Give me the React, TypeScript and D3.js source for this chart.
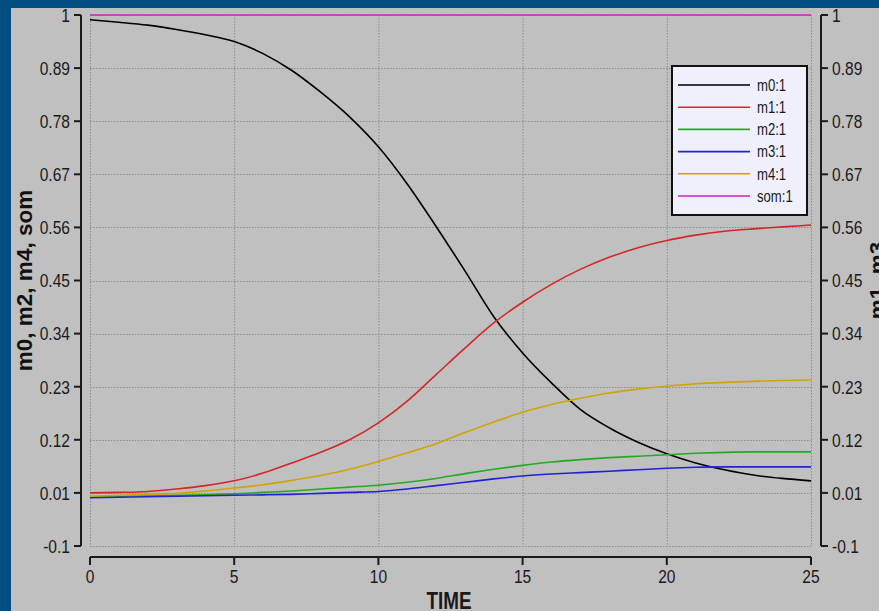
import React from "react";
import * as d3 from "d3";

// Simulation output: time in steps of 1, moment fractions per species
const time = d3.range(0, 26);
const m0 = [0.99, 0.985, 0.979, 0.970, 0.959, 0.945, 0.920, 0.885, 0.840, 0.789, 0.727, 0.650, 0.562, 0.470, 0.375, 0.300, 0.238, 0.183, 0.145, 0.115, 0.091, 0.072, 0.058, 0.047, 0.040, 0.035];
const m1 = [0.010, 0.011, 0.013, 0.018, 0.025, 0.035, 0.051, 0.072, 0.094, 0.120, 0.155, 0.200, 0.255, 0.310, 0.362, 0.405, 0.442, 0.473, 0.498, 0.518, 0.533, 0.544, 0.552, 0.557, 0.561, 0.565];
const m2 = [0.002, 0.003, 0.004, 0.005, 0.006, 0.008, 0.011, 0.014, 0.018, 0.022, 0.026, 0.032, 0.040, 0.050, 0.059, 0.067, 0.074, 0.079, 0.083, 0.086, 0.089, 0.092, 0.094, 0.095, 0.095, 0.095];
const m3 = [0.000, 0.001, 0.002, 0.003, 0.004, 0.005, 0.006, 0.007, 0.009, 0.011, 0.013, 0.018, 0.025, 0.032, 0.039, 0.045, 0.049, 0.052, 0.055, 0.058, 0.061, 0.063, 0.064, 0.064, 0.064, 0.064];
const m4 = [0.003, 0.005, 0.007, 0.009, 0.014, 0.020, 0.027, 0.036, 0.046, 0.059, 0.075, 0.093, 0.112, 0.135, 0.157, 0.177, 0.193, 0.206, 0.217, 0.225, 0.231, 0.236, 0.239, 0.241, 0.243, 0.244];
const som = time.map(() => 1);

const seriesNames = ["m0:1", "m1:1", "m2:1", "m3:1", "m4:1", "som:1"];
const seriesColors = ["#000000", "#d42626", "#22aa22", "#2222d8", "#d0a400", "#d020c8"];
const seriesValues = [m0, m1, m2, m3, m4, som];

const xTicks = [0, 5, 10, 15, 20, 25];
const yTicks = [1, 0.89, 0.78, 0.67, 0.56, 0.45, 0.34, 0.23, 0.12, 0.01, -0.1];

const W = 879;
const H = 611;
const BG = "#c0c0c0";
const FRAME = "#004f80";
const FONT = "'Liberation Sans', Arial, sans-serif";

// Condensed text: regular sans squeezed horizontally
function Narrow({
  x,
  y,
  anchor = "start",
  size = 19,
  weight = "normal",
  dy,
  children,
}: {
  x: number;
  y: number;
  anchor?: "start" | "middle" | "end";
  size?: number;
  weight?: string;
  dy?: string;
  children: React.ReactNode;
}) {
  return (
    <text
      transform={`translate(${x},${y}) scale(0.82,1)`}
      textAnchor={anchor}
      fontFamily={FONT}
      fontSize={size}
      fontWeight={weight}
      fill="#1a1a1a"
      dy={dy}
    >
      {children}
    </text>
  );
}

export default function App() {
  const x = d3.scaleLinear().domain([0, 25]).range([90, 811]);
  const y = d3.scaleLinear().domain([-0.1, 1]).range([546, 15]);
  const line = d3
    .line<number>()
    .x((_, i) => x(time[i]))
    .y((d) => y(d))
    .curve(d3.curveMonotoneX);

  const leftAxisX = 81;
  const rightAxisX = 821;
  const bottomAxisY = 557;

  const legendX = 672;
  const legendY = 66;

  return (
    <svg
      width={W}
      height={H}
      style={{ position: "absolute", left: 0, top: 0, display: "block" }}
    >
      <rect x={0} y={0} width={W} height={H} fill={FRAME} />
      <rect x={11} y={8} width={W - 11} height={H - 8} fill={BG} />

      {/* grid */}
      <g stroke="#8a8a8a" strokeWidth={1} strokeDasharray="1.5,1.5">
        {xTicks.map((t) => (
          <line key={"gx" + t} x1={x(t) + 0.5} x2={x(t) + 0.5} y1={y(1)} y2={y(-0.1)} />
        ))}
        {yTicks.map((v) => (
          <line key={"gy" + v} x1={x(0)} x2={x(25)} y1={Math.round(y(v)) + 0.5} y2={Math.round(y(v)) + 0.5} />
        ))}
      </g>

      {/* left axis */}
      <g stroke="#1a1a1a" strokeWidth={2} fill="none">
        <line x1={leftAxisX} x2={leftAxisX} y1={y(1)} y2={y(-0.1)} />
        {yTicks.map((v) => (
          <line key={"lt" + v} x1={leftAxisX - 7} x2={leftAxisX} y1={y(v)} y2={y(v)} />
        ))}
      </g>
      {yTicks.map((v) => (
        <Narrow key={"ll" + v} x={70} y={y(v)} dy="0.36em" anchor="end">
          {String(v)}
        </Narrow>
      ))}

      {/* right axis */}
      <g stroke="#1a1a1a" strokeWidth={2} fill="none">
        <line x1={rightAxisX} x2={rightAxisX} y1={y(1)} y2={y(-0.1)} />
        {yTicks.map((v) => (
          <line key={"rt" + v} x1={rightAxisX} x2={rightAxisX + 7} y1={y(v)} y2={y(v)} />
        ))}
      </g>
      {yTicks.map((v) => (
        <Narrow key={"rl" + v} x={832} y={y(v)} dy="0.36em">
          {String(v)}
        </Narrow>
      ))}

      {/* bottom axis */}
      <g stroke="#1a1a1a" strokeWidth={2} fill="none">
        <line x1={x(0)} x2={x(25)} y1={bottomAxisY} y2={bottomAxisY} />
        {xTicks.map((t) => (
          <line key={"bt" + t} x1={x(t)} x2={x(t)} y1={bottomAxisY} y2={bottomAxisY + 8} />
        ))}
      </g>
      {xTicks.map((t) => (
        <Narrow key={"bl" + t} x={x(t)} y={583} anchor="middle">
          {t}
        </Narrow>
      ))}

      {/* axis titles */}
      <Narrow x={449} y={609} anchor="middle" size={23} weight="bold">
        TIME
      </Narrow>
      <text
        transform={`translate(32, ${y(0.45)}) rotate(-90)`}
        textAnchor="middle"
        fontFamily={FONT}
        fontWeight="bold"
        fontSize={22.5}
        fill="#111"
      >
        m0, m2, m4, som
      </text>
      <text
        transform={`translate(885, ${y(0.45)}) rotate(-90)`}
        textAnchor="middle"
        fontFamily={FONT}
        fontWeight="bold"
        fontSize={22.5}
        fill="#111"
      >
        m1, m3
      </text>

      {/* series */}
      <g fill="none" strokeWidth={1.6}>
        {seriesValues.map((vals, i) => (
          <path key={seriesNames[i]} d={line(vals) ?? ""} stroke={seriesColors[i]} />
        ))}
      </g>

      {/* legend */}
      <rect
        x={legendX}
        y={legendY}
        width={135}
        height={149}
        fill="#f0f0fc"
        stroke="#111"
        strokeWidth={2}
      />
      {seriesNames.map((name, i) => {
        const ly = 85 + i * 22.2;
        return (
          <g key={"lg" + name}>
            <line x1={678} x2={750} y1={ly} y2={ly} stroke={seriesColors[i]} strokeWidth={1.6} />
            <Narrow x={757} y={ly} dy="0.36em" size={16}>
              {name}
            </Narrow>
          </g>
        );
      })}
    </svg>
  );
}
